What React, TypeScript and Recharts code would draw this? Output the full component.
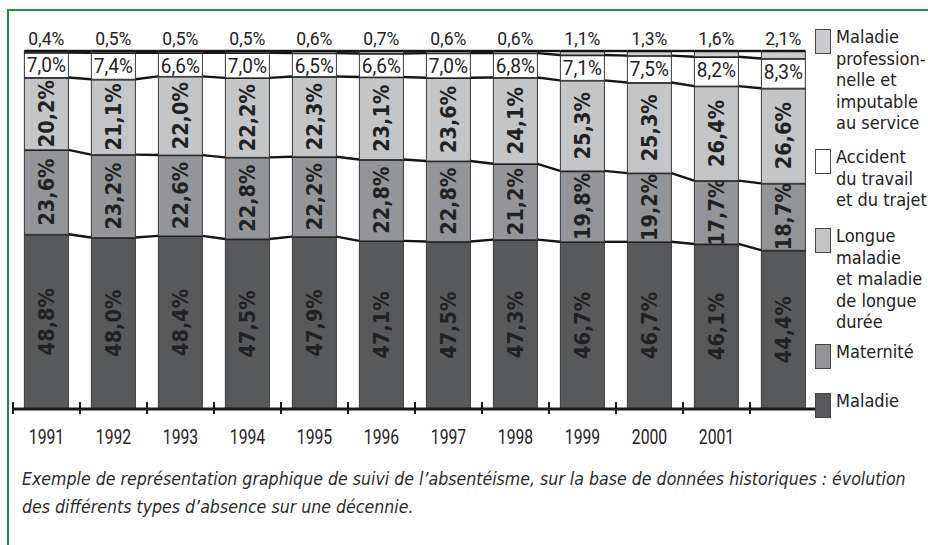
import React from 'react';
import { BarChart, Bar, XAxis, YAxis } from 'recharts';

// ---- data ----
const years = ['1991', '1992', '1993', '1994', '1995', '1996', '1997', '1998', '1999', '2000', '2001', '2002'];
const tickLabels = ['1991', '1992', '1993', '1994', '1995', '1996', '1997', '1998', '1999', '2000', '2001', ''];
const maladie = [48.8, 48.0, 48.4, 47.5, 47.9, 47.1, 47.5, 47.3, 46.7, 46.7, 46.1, 44.4];
const maternite = [23.6, 23.2, 22.6, 22.8, 22.2, 22.8, 22.8, 21.2, 19.8, 19.2, 17.7, 18.7];
const longueMaladie = [20.2, 21.1, 22.0, 22.2, 22.3, 23.1, 23.6, 24.1, 25.3, 25.3, 26.4, 26.6];
const accident = [7.0, 7.4, 6.6, 7.0, 6.5, 6.6, 7.0, 6.8, 7.1, 7.5, 8.2, 8.3];
const maladiePro = [0.4, 0.5, 0.5, 0.5, 0.6, 0.7, 0.6, 0.6, 1.1, 1.3, 1.6, 2.1];

const seriesKeys = ['maladie', 'maternite', 'longue', 'accident', 'pro'];
const seriesValues = [maladie, maternite, longueMaladie, accident, maladiePro];
const seriesColors = ['#58595b', '#939598', '#c4c5c7', '#ffffff', '#cbcbcd'];

const legendItems = [
  { lines: ['Maladie', 'profession-', 'nelle et', 'imputable', 'au service'], color: '#cbcbcd', top: 26 },
  { lines: ['Accident', 'du travail', 'et du trajet'], color: '#ffffff', top: 146 },
  { lines: ['Longue', 'maladie', 'et maladie', 'de longue', 'durée'], color: '#c4c5c7', top: 225 },
  { lines: ['Maternité'], color: '#939598', top: 341 },
  { lines: ['Maladie'], color: '#58595b', top: 390 },
];

const captionLines = [
  'Exemple de représentation graphique de suivi de l’absentéisme, sur la base de données historiques : évolution',
  'des différents types d’absence sur une décennie.',
];

// ---- table built from arrays ----
const data = years.map((y, i) => {
  const row: any = { year: y, label: tickLabels[i] };
  const total = seriesValues.reduce((s, arr) => s + arr[i], 0);
  let cum = 0;
  seriesKeys.forEach((k, s) => {
    row[k] = seriesValues[s][i];
    row['below_' + k] = cum / total;
    cum += seriesValues[s][i];
    row['top_' + k] = cum / total;
  });
  return row;
});
data.forEach((row, i) => {
  const next = data[i + 1];
  seriesKeys.forEach((k) => {
    row['next_' + k] = next ? next['top_' + k] : null;
  });
});

// ---- layout ----
const W = 928;
const H = 545;
const MARGIN = { top: 51, right: 111, left: 13, bottom: 96 };
const GAP = 0.17;
const PLOT_W = W - MARGIN.left - MARGIN.right;
const STEP = PLOT_W / years.length;

const THIN = "Roboto, 'Liberation Sans', sans-serif";
const COND = "'DejaVu Sans Condensed', 'DejaVu Sans', sans-serif";
const GREEN = '#1c8f45';

const fmt = (v: number) => v.toFixed(1).replace('.', ',') + '%';

const CondText = ({ x, y, sx, size, children }: any) => (
  <text
    transform={`translate(${x} ${y}) scale(${sx} 1)`}
    x={0}
    y={0}
    textAnchor="middle"
    fontFamily={THIN}
    fontSize={size}
    fill="#222"
  >
    {children}
  </text>
);

const makeShape = (s: number) => (props: any) => {
  const { x, y, width, height, payload, background } = props;
  const k = seriesKeys[s];
  const frac = payload['top_' + k] - payload['below_' + k];
  let plotH: number;
  let bottom: number;
  if (background && background.height > 0) {
    plotH = background.height;
    bottom = background.y + background.height;
  } else {
    plotH = frac > 0 ? height / frac : 0;
    bottom = y + height + payload['below_' + k] * plotH;
  }
  const step = width / (1 - 2 * GAP);
  const nextTop = payload['next_' + k];
  const value = payload[k];
  const cx = x + width / 2;
  const cy = y + height / 2;
  let label: any = null;
  if (s === 4) {
    label = (
      <CondText x={cx} y={y - 6} sx={0.95} size={18.5}>
        {fmt(value)}
      </CondText>
    );
  } else if (s === 3) {
    label = (
      <CondText x={cx} y={y + 20} sx={0.93} size={20.5}>
        {fmt(value)}
      </CondText>
    );
  } else {
    label = (
      <text
        x={cx}
        y={cy}
        transform={`rotate(-90 ${cx} ${cy})`}
        textAnchor="middle"
        dominantBaseline="central"
        fontFamily={COND}
        fontStretch="condensed"
        fontWeight="bold"
        fontSize={21.5}
        fill="#222"
      >
        {fmt(value)}
      </text>
    );
  }
  return (
    <g>
      <rect x={x} y={y} width={width} height={height} fill={seriesColors[s]} stroke="#3a3a3a" strokeWidth={1} />
      <line x1={x} x2={x + width} y1={y} y2={y} stroke="#151515" strokeWidth={2.4} />
      {nextTop != null && (
        <line
          x1={x + width}
          y1={y}
          x2={x + step}
          y2={bottom - nextTop * plotH}
          stroke="#151515"
          strokeWidth={2.4}
        />
      )}
      {label}
    </g>
  );
};

const YearTick = (props: any) => {
  const { x, y, index } = props;
  const label = tickLabels[index];
  const tx = x - STEP / 2;
  return (
    <g>
      <line x1={tx} x2={tx} y1={y - 7} y2={y + 5} stroke="#1a1a1a" strokeWidth={2} />
      {label ? (
        <CondText x={x} y={y + 35} sx={0.75} size={21}>
          {label}
        </CondText>
      ) : null}
    </g>
  );
};

function measure(text: string, font: string): number {
  try {
    const c = document.createElement('canvas');
    const ctx = c.getContext('2d');
    if (!ctx) return 0;
    ctx.font = font;
    return ctx.measureText(text).width;
  } catch (e) {
    return 0;
  }
}

export default function App() {
  const CAP_FAMILY = "'DejaVu Sans Condensed'";
  const baseSize = 19;
  const w1 = measure(captionLines[0], `italic ${baseSize}px ${CAP_FAMILY}`);
  const capSize = w1 > 0 ? Math.min(19, (baseSize * 884) / w1) : 17;
  return (
    <div style={{ position: 'absolute', left: 0, top: 0, width: W, height: H, background: '#fff', overflow: 'hidden' }}>
      <div
        style={{
          position: 'absolute',
          left: 7,
          top: 9,
          width: W,
          height: H,
          borderTop: `2px solid ${GREEN}`,
          borderLeft: `2px solid ${GREEN}`,
        }}
      />
      <div style={{ position: 'absolute', left: 0, top: 0 }}>
        <BarChart width={W} height={H} data={data} margin={MARGIN} stackOffset="expand" barCategoryGap="17%">
          <YAxis hide domain={[0, 1]} />
          <XAxis
            dataKey="year"
            axisLine={{ stroke: '#1a1a1a', strokeWidth: 3 }}
            tickLine={false}
            tickSize={0}
            tickMargin={0}
            height={40}
            interval={0}
            tick={<YearTick />}
          />
          {seriesKeys.map((k, s) => (
            <Bar key={k} dataKey={k} stackId="a" fill={seriesColors[s]} shape={makeShape(s)} isAnimationActive={false} />
          ))}
        </BarChart>
      </div>
      {legendItems.map((it, i) => (
        <div key={i} style={{ position: 'absolute', left: 815, top: it.top, display: 'flex', alignItems: 'flex-start' }}>
          <div
            style={{
              width: 14,
              height: 23,
              marginTop: 3,
              background: it.color,
              border: '1.5px solid #444',
              flex: 'none',
            }}
          />
          <div
            style={{
              marginLeft: 5,
              fontFamily: COND,
              fontStretch: 'condensed',
              fontSize: 18,
              lineHeight: '21.5px',
              color: '#222',
              whiteSpace: 'nowrap',
            }}
          >
            {it.lines.map((l, j) => (
              <div key={j}>{l}</div>
            ))}
          </div>
        </div>
      ))}
      <div
        style={{
          position: 'absolute',
          left: 22,
          top: 465,
          width: 900,
          fontFamily: CAP_FAMILY,
          fontStyle: 'italic',
          fontSize: capSize,
          lineHeight: '28px',
          color: '#2a2a2a',
          whiteSpace: 'nowrap',
        }}
      >
        {captionLines.map((l, j) => (
          <div key={j}>{l}</div>
        ))}
      </div>
    </div>
  );
}
